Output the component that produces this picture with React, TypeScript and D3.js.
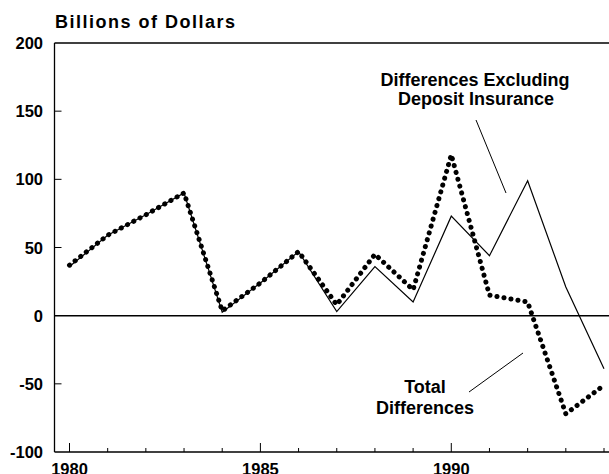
import React from 'react';
import { scaleLinear, line } from 'd3';

const years = [1980, 1981, 1982, 1983, 1984, 1985, 1986, 1987, 1988, 1989, 1990, 1991, 1992, 1993, 1994];
const totalDiff = [37, 59, 74, 90, 3.5, 24, 47, 8, 45, 19, 118, 15, 10, -72, -51];
const exclDeposit = [36, 59, 74, 90, 2.5, 24, 47, 3, 36, 10, 73, 44, 99, 21, -39];
const yTicks = [200, 150, 100, 50, 0, -50, -100];
const xLabels = [1980, 1985, 1990];

const W = 609;
const H = 474;

const App = () => {
  const x = scaleLinear().domain([1980, 1994]).range([69.5, 604]);
  const y = scaleLinear().domain([-100, 200]).range([452, 43]);

  const path = line<number>()
    .x((d, i) => x(years[i]))
    .y((d) => y(d));

  const left = 54.5;
  const font = "'Liberation Sans', Arial, sans-serif";

  return (
    <svg width={W} height={H} style={styles.chart} fontFamily={font} fontWeight="bold">
      <rect width={W} height={H} fill="#fff" />

      <text x={55} y={28} fontSize={18} letterSpacing={1.5}>
        Billions of Dollars
      </text>

      {/* frame */}
      <line x1={left} x2={W} y1={y(200)} y2={y(200)} stroke="#000" strokeWidth={1.3} />
      <line x1={left} x2={left} y1={y(200)} y2={y(-100)} stroke="#000" strokeWidth={1.3} />
      <line x1={left} x2={W} y1={y(-100)} y2={y(-100)} stroke="#000" strokeWidth={1.5} />
      <line x1={left} x2={W} y1={y(0)} y2={y(0)} stroke="#000" strokeWidth={1.5} />

      {yTicks.map((t) => (
        <g key={t}>
          {t !== 200 && t !== 0 && t !== -100 && (
            <line x1={left} x2={left + 7} y1={y(t)} y2={y(t)} stroke="#000" strokeWidth={1} />
          )}
          <text x={43} y={y(t) + 6} fontSize={16.5} textAnchor="end">
            {t}
          </text>
        </g>
      ))}

      {years.map((yr) => (
        <line
          key={yr}
          x1={x(yr)}
          x2={x(yr)}
          y1={y(-100)}
          y2={y(-100) - (yr % 5 === 0 ? 9 : 4)}
          stroke="#000"
          strokeWidth={1}
        />
      ))}
      {xLabels.map((yr) => (
        <text key={yr} x={x(yr)} y={475} fontSize={16.5} textAnchor="middle">
          {yr}
        </text>
      ))}

      <path d={path(exclDeposit) ?? ''} fill="none" stroke="#000" strokeWidth={1.2} />
      <path
        d={path(totalDiff) ?? ''}
        fill="none"
        stroke="#000"
        strokeWidth={5}
        strokeDasharray="0.1 7"
        strokeLinecap="round"
      />

      {/* annotations */}
      <text x={475} y={86} fontSize={18} textAnchor="middle">
        Differences Excluding
      </text>
      <text x={476} y={105} fontSize={18} textAnchor="middle">
        Deposit Insurance
      </text>
      <line x1={476} y1={120} x2={506} y2={193} stroke="#000" strokeWidth={1} />

      <text x={425} y={393} fontSize={18} textAnchor="middle">
        Total
      </text>
      <text x={425} y={414} fontSize={18} textAnchor="middle">
        Differences
      </text>
      <line x1={469} y1={392} x2={523} y2={353} stroke="#000" strokeWidth={1} />
    </svg>
  );
};

export default App;

const styles = {
  chart: {
    position: 'absolute' as const,
    left: 0,
    top: 0,
    display: 'block',
  },
};
